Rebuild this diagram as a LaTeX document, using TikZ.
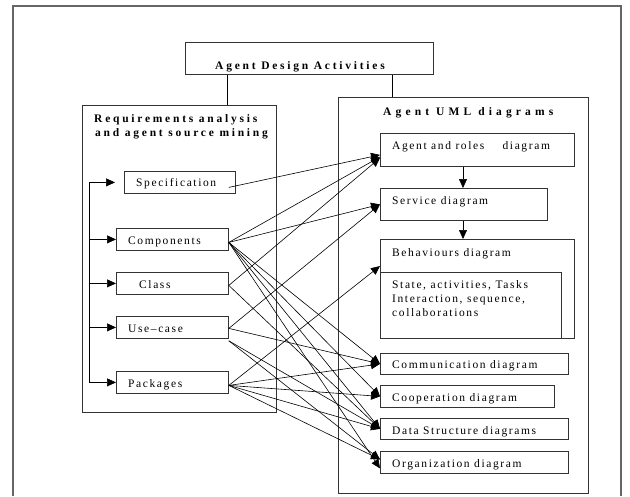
\documentclass[tikz,border=0pt]{standalone}
\usepackage{fontspec}
\setmainfont[LetterSpace=14]{Liberation Serif}
\newfontfamily\headfont[LetterSpace=24]{Liberation Serif}
\usetikzlibrary{arrows.meta}

\begin{document}
\begin{tikzpicture}[x=1pt,y=-1pt,
  frame/.style={draw=black!60, line width=1.3pt},
  box/.style={draw=black!80, line width=0.8pt, inner sep=0pt, anchor=north west},
  lbl/.style={anchor=base west, inner sep=0pt, font=\fontsize{11.5}{13}\selectfont},
  head/.style={anchor=base west, inner sep=0pt, font=\fontsize{11.5}{13}\headfont\bfseries},
  link/.style={line width=0.6pt, -{Triangle[length=9pt,width=8pt]}},
  wire/.style={line width=0.8pt}]

\useasboundingbox (0,0) rectangle (630,496);

% outer frame, open at the bottom of the page
\draw[frame] (13,496) -- (13,6) -- (621,6) -- (621,496);

% top level
\node[box, minimum width=248pt, minimum height=32pt] (title) at (185,42) {};
\node[head, anchor=base] (titletxt) at (300,69) {Agent Design Activities};

% left column: requirements analysis
\node[box, minimum width=194pt, minimum height=307pt] (reqs) at (82,105) {};
\node[head] (reqsa) at (94,122) {Requirements analysis};
\node[head] (reqsb) at (95,136) {and agent source mining};

\node[box, minimum width=111pt, minimum height=22pt] (spec)  at (124,171) {};
\node[box, minimum width=112pt, minimum height=22pt] (comp)  at (116,228) {};
\node[box, minimum width=112pt, minimum height=22pt] (class) at (116,272) {};
\node[box, minimum width=112pt, minimum height=22pt] (use)   at (116,316) {};
\node[box, minimum width=112pt, minimum height=22pt] (pkg)   at (116,371) {};
\node[lbl] (spectxt)  at (136,186) {Specification};
\node[lbl] (comptxt)  at (128,244) {Components};
\node[lbl] (classtxt) at (139,288) {Class};
\node[lbl] (usetxt)   at (128,332) {Use--case};
\node[lbl] (pkgtxt)   at (128,387) {Packages};

% right column: Agent UML diagrams
\node[box, minimum width=250pt, minimum height=396pt] (uml) at (338,97) {};
\node[head, font=\fontsize{11.5}{13}\headfont\bfseries\addfontfeature{LetterSpace=36}] (umltxt) at (383,115) {Agent UML diagrams};

\node[box, minimum width=194pt, minimum height=33pt] (agent)   at (380,133) {};
\node[box, minimum width=167pt, minimum height=32pt] (service) at (380,188) {};
\node[box, minimum width=194pt, minimum height=99pt] (behav)   at (380,239) {};
\node[box, minimum width=181pt, minimum height=66pt] (state)   at (380,272) {};
\node[box, minimum width=188pt, minimum height=21pt] (comm)    at (380,353) {};
\node[box, minimum width=174pt, minimum height=22pt] (coop)    at (380,385) {};
\node[box, minimum width=188pt, minimum height=21pt] (data)    at (380,418) {};
\node[box, minimum width=188pt, minimum height=22pt] (org)     at (380,451) {};

\node[lbl] (agenttxt)   at (392,149) {Agent and roles\hspace{1.2em} diagram};
\node[lbl] (servicetxt) at (392,204) {Service diagram};
\node[lbl] (behavtxt)   at (392,256) {Behaviours diagram};
\node[lbl] (statea)     at (392,288) {State, activities, Tasks};
\node[lbl] (stateb)     at (392,302) {Interaction, sequence,};
\node[lbl] (statec)     at (392,316) {collaborations};
\node[lbl] (commtxt)    at (392,368) {Communication diagram};
\node[lbl] (cooptxt)    at (392,401) {Cooperation diagram};
\node[lbl] (datatxt)    at (392,434) {Data Structure diagrams};
\node[lbl] (orgtxt)     at (392,467) {Organization diagram};

% links from the title box
\coordinate (lx) at (227,0);
\coordinate (rx) at (392,0);
\draw[wire] (lx |- title.south) -- (lx |- reqs.north);
\draw[wire] (rx |- title.south) -- (rx |- uml.north);

% rail feeding the requirement items
\coordinate (rail) at (89,0);
\draw[wire] (rail |- spec.west) -- (rail |- pkg.west);
\draw[link] (rail |- spec.west)  -- ([xshift=-9pt]spec.west);
\draw[link] (rail |- comp.west)  -- (comp.west);
\draw[link] (rail |- class.west) -- (class.west);
\draw[link] (rail |- use.west)   -- (use.west);
\draw[link] (rail |- pkg.west)   -- (pkg.west);

% chain of UML diagrams
\coordinate (mid) at (463,0);
\draw[link] (mid |- agent.south)   -- (mid |- service.north);
\draw[link] (mid |- service.south) -- (mid |- behav.north);

% requirement items to UML diagrams
\draw[link] ([shift={(-7pt,-5pt)}]spec.east) -- ([yshift=-5pt]agent.west);

\draw[link] ([yshift=-3pt]comp.east) -- ([yshift=-7pt]agent.west);
\draw[link] ([yshift=-3pt]comp.east) -- (service.west);
\draw[link] ([yshift=-3pt]comp.east) -- (comm.west);
\draw[link] ([yshift=-3pt]comp.east) -- (coop.west);
\draw[link] ([yshift=-3pt]comp.east) -- (data.west);
\draw[link] ([yshift=-3pt]comp.east) -- ([yshift=-6pt]org.west);

\draw[link] ([yshift=-2pt]class.east) -- ([yshift=-8pt]agent.west);
\draw[link] ([yshift=-2pt]class.east) -- (data.west);

\draw[link] ([yshift=-1pt]use.east) -- (service.west);
\draw[link] ([yshift=-1pt]use.east) -- (comm.west);
\draw[link] ([yshift=-2pt]use.south east) -- (data.west);
\draw[link] ([yshift=-2pt]use.south east) -- ([yshift=3pt]org.west);

\draw[link] ([yshift=-3pt]pkg.east) -- ([yshift=-27pt]behav.north west);
\draw[link] ([yshift=-3pt]pkg.east) -- (comm.west);
\draw[link] ([yshift=-3pt]pkg.east) -- (coop.west);
\draw[link] ([yshift=-3pt]pkg.east) -- (data.west);
\draw[link] ([yshift=-3pt]pkg.east) -- ([yshift=3pt]org.west);
\end{tikzpicture}
\end{document}
